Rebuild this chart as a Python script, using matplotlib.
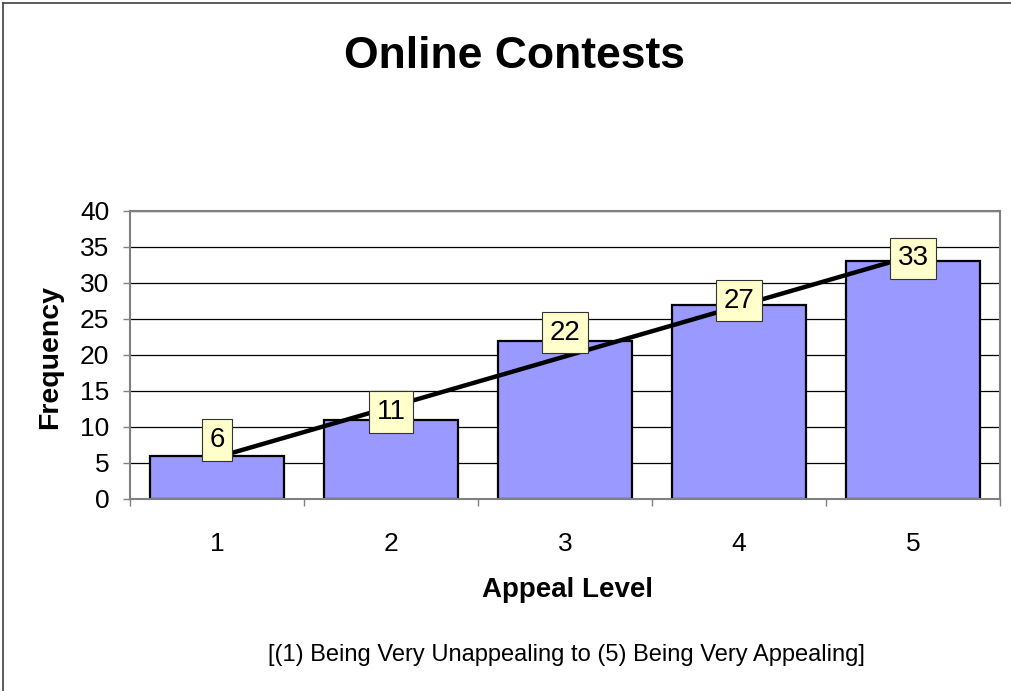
import numpy as np
import matplotlib.pyplot as plt
from matplotlib.lines import Line2D

plt.rcParams['font.family'] = ['Liberation Sans', 'DejaVu Sans']

# chart data
levels = [1, 2, 3, 4, 5]
freq = [6, 11, 22, 27, 33]
y_ticks = [0, 5, 10, 15, 20, 25, 30, 35, 40]
# vertical nudge of each value label (pixels)
label_dy = [16, 8, 8, 4, 3]

W, H = 1011, 691
fig = plt.figure(figsize=(W / 100, H / 100), dpi=100)
ax = fig.add_axes([130 / W, 1 - 499 / H, 870 / W, 288 / H])

# bars
ax.bar(levels, freq, width=0.77, color='#9999FF', edgecolor='black',
       linewidth=1.6, zorder=2)

# linear trendline fitted to the bars
slope, icpt = np.polyfit(levels, freq, 1)
xs = np.array([levels[0], levels[-1]])
ax.plot(xs, slope * xs + icpt, color='black', lw=3.2, zorder=3,
        solid_capstyle='butt')

# value labels
for x, v, dy in zip(levels, freq, label_dy):
    ax.annotate(str(v), (x, v), xytext=(0, dy * 0.72), textcoords='offset points',
                ha='center', va='center', fontsize=20, zorder=4,
                bbox=dict(boxstyle='square,pad=0.28', fc='#FFFFCC',
                          ec='#333333', lw=0.8))

ax.set_xlim(0.5, 5.5)
ax.set_ylim(0, 40)
ax.set_yticks(y_ticks)
ax.yaxis.grid(True, color='black', lw=0.9, zorder=1)
ax.set_axisbelow(True)

ax.set_xticks(levels)
ax.set_xticks(np.arange(0.5, 5.6, 1), minor=True)
ax.tick_params(axis='x', which='major', length=0, pad=24, labelsize=19)
ax.tick_params(axis='x', which='minor', length=5, width=1, color='#808080',
               direction='out')
ax.tick_params(axis='y', length=5, width=1, color='#808080', pad=10,
               labelsize=19)

for s in ax.spines.values():
    s.set_color('#808080')
    s.set_linewidth(1.5)

# text
fig.text(515 / W, 1 - 57 / H, 'Online Contests', ha='center', va='center',
         fontsize=32, fontweight='bold')
fig.text(567 / W, 1 - 590 / H, 'Appeal Level', ha='center', va='center',
         fontsize=20, fontweight='bold')
fig.text(50 / W, 1 - 357 / H, 'Frequency', ha='center', va='center',
         fontsize=20.5, fontweight='bold', rotation=90)
fig.text(566 / W, 1 - 655 / H,
         '[(1) Being Very Unappealing to (5) Being Very Appealing]',
         ha='center', va='center', fontsize=17)

# outer frame
fig.add_artist(Line2D([3 / W, 1], [1 - 3 / H, 1 - 3 / H], color='#404040', lw=1.2))
fig.add_artist(Line2D([3 / W, 3 / W], [0, 1 - 3 / H], color='#404040', lw=1.2))

fig.savefig('out.png', dpi=100)
